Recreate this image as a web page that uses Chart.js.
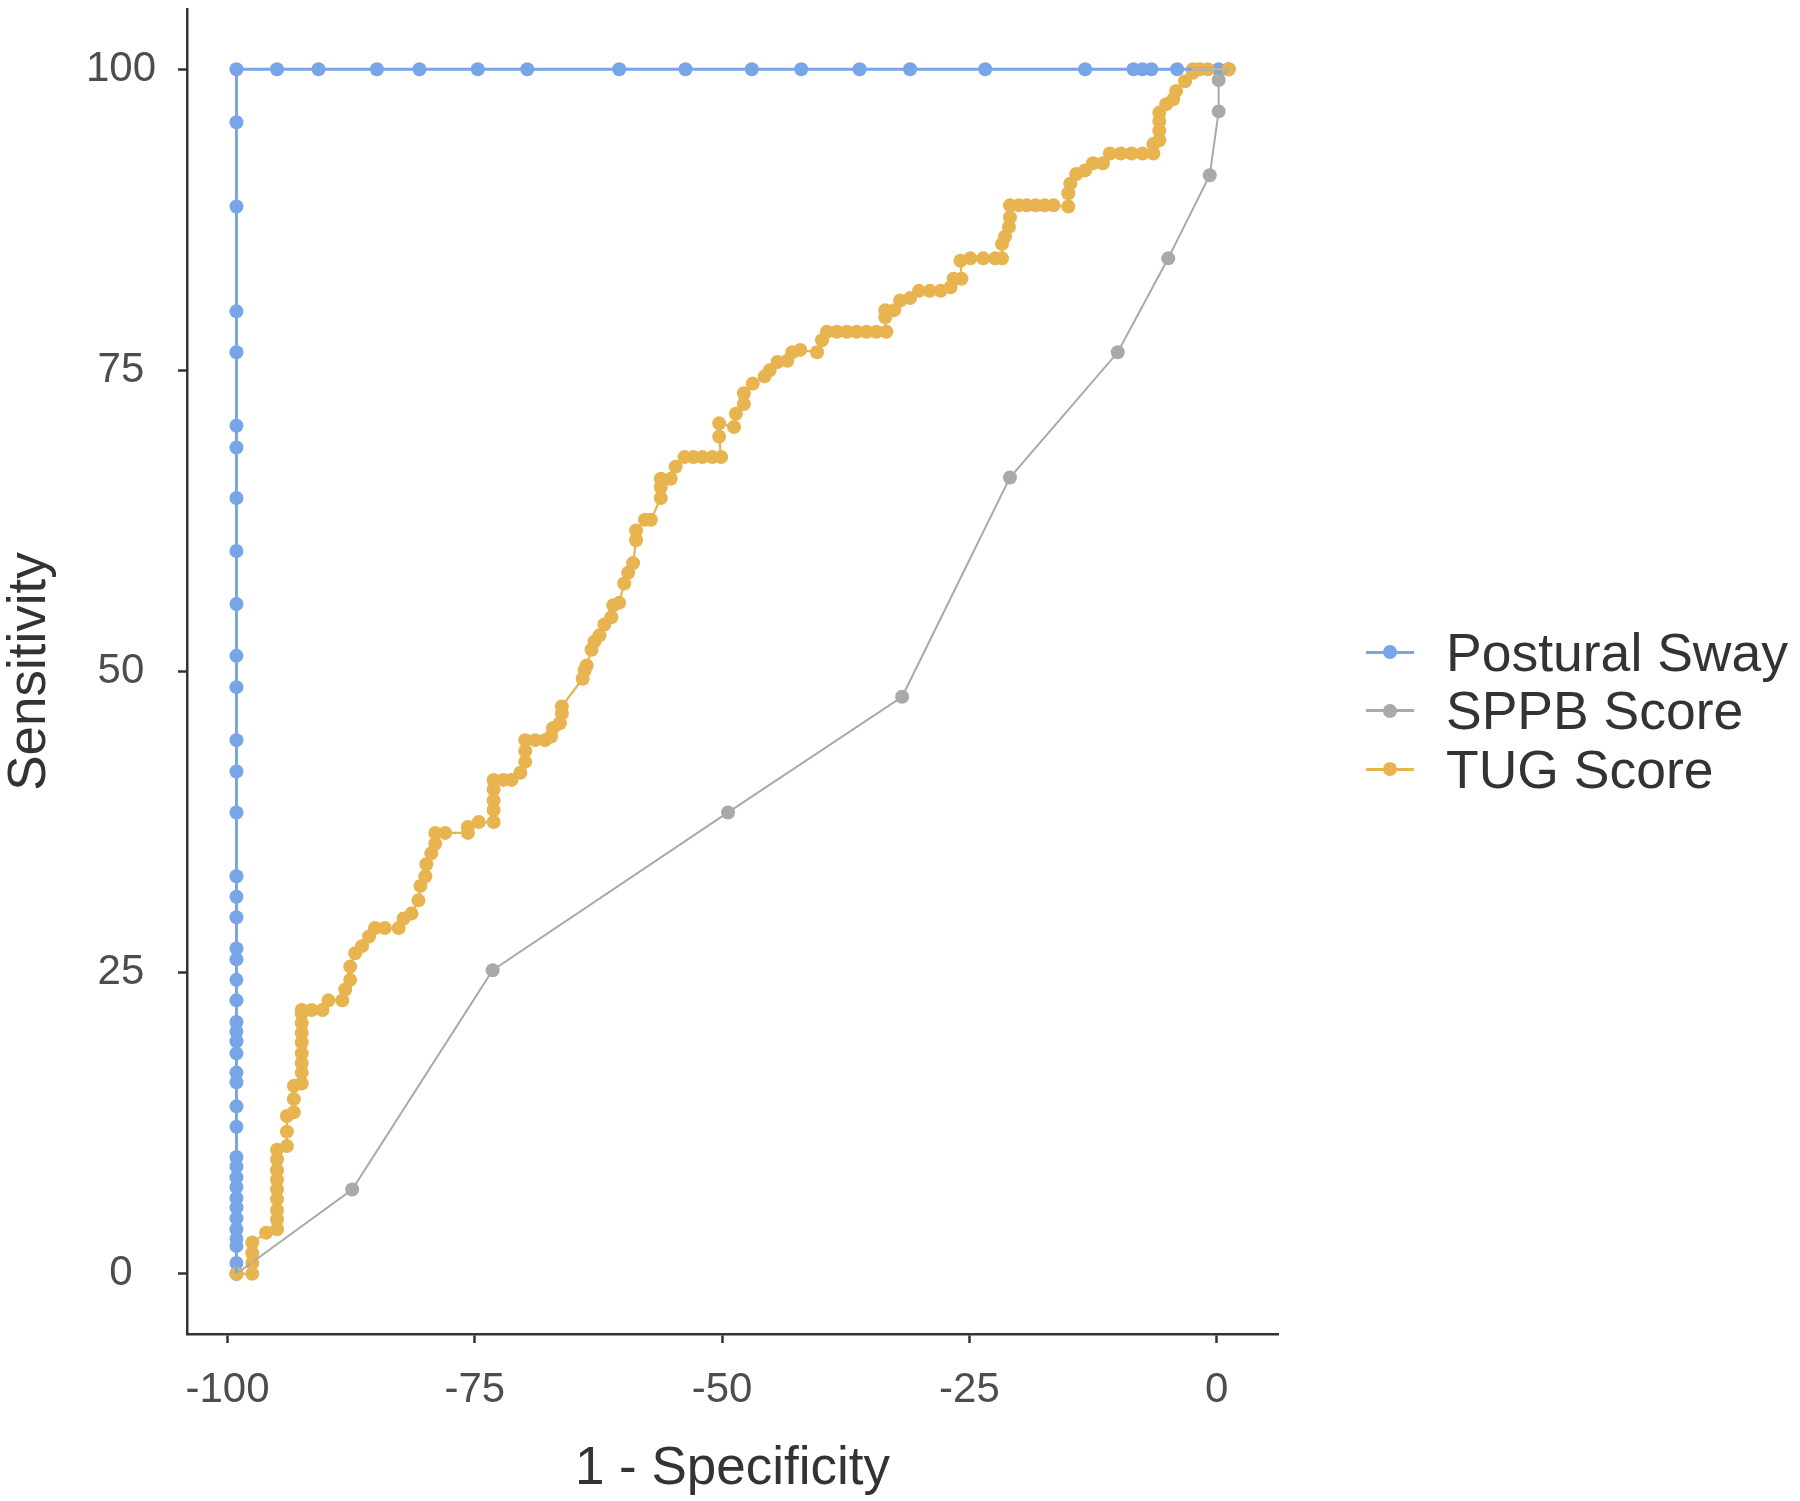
<!DOCTYPE html>
<html>
<head>
<meta charset="utf-8">
<script src="https://cdn.jsdelivr.net/npm/chart.js@4.4.1/dist/chart.umd.min.js"></script>
<style>
  html, body { margin: 0; padding: 0; background: #fff; }
  #wrap { position: relative; width: 1800px; height: 1501px; }
  #legend { position: absolute; left: 1366px; top: 623px; font-family: "Liberation Sans", Arial, sans-serif; font-size: 53.5px; color: #333; }
  .item { display: flex; align-items: center; height: 58.5px; white-space: nowrap; }
  .key { position: relative; width: 48px; height: 14px; margin-right: 32px; }
  .key .ln { position: absolute; left: 0; right: 0; top: 5.5px; height: 3px; }
  .key .pt { position: absolute; left: 17px; top: 0; width: 14px; height: 14px; border-radius: 50%; }
</style>
</head>
<body>
<div id="wrap">
  <canvas id="roc" width="1800" height="1501"></canvas>
  <div id="legend"></div>
</div>
<script>
// ROC curves ([1 - specificity, sensitivity])
const seriesNames = ['Postural Sway', 'SPPB Score', 'TUG Score'];
const seriesColors = ['#77A5E8', '#A9A9A9', '#E8B44F'];
const xTicks = [-100, -75, -50, -25, 0];
const yTicks = [0, 25, 50, 75, 100];

const postural = [
  [-99.1, 0], [-99.1, 0.9], [-99.1, 2.3], [-99.1, 2.9], [-99.1, 3.7], [-99.1, 4.6], [-99.1, 5.5],
  [-99.1, 6.3], [-99.1, 7.2], [-99.1, 8.0], [-99.1, 8.9], [-99.1, 9.7], [-99.1, 12.2], [-99.1, 13.9],
  [-99.1, 15.9], [-99.1, 16.7], [-99.1, 18.3], [-99.1, 19.3], [-99.1, 20.1], [-99.1, 20.9], [-99.1, 22.7],
  [-99.1, 24.4], [-99.1, 26.1], [-99.1, 27.0], [-99.1, 29.6], [-99.1, 31.3], [-99.1, 33.0], [-99.1, 38.3],
  [-99.1, 41.7], [-99.1, 44.3], [-99.1, 48.7], [-99.1, 51.3], [-99.1, 55.6], [-99.1, 60.0], [-99.1, 64.4],
  [-99.1, 68.6], [-99.1, 70.4], [-99.1, 76.5], [-99.1, 79.9], [-99.1, 88.6], [-99.1, 95.6], [-99.1, 100],
  [-95.0, 100], [-90.8, 100], [-84.9, 100], [-80.6, 100], [-74.7, 100], [-69.7, 100], [-60.4, 100],
  [-53.7, 100], [-47.0, 100], [-42.0, 100], [-36.1, 100], [-31.0, 100], [-23.4, 100], [-13.3, 100],
  [-8.4, 100], [-7.5, 100], [-6.6, 100], [-4.0, 100], [0.2, 100], [1.2, 100]
];

const sppb = [
  [-99.1, 0], [-87.4, 7.0], [-73.2, 25.2], [-49.4, 38.3], [-31.8, 47.9], [-20.9, 66.1],
  [-10.0, 76.5], [-4.9, 84.3], [-0.7, 91.2], [0.2, 96.5], [0.2, 99.1], [1.2, 100]
];

const tug = [
  [-99.1, 0], [-97.5, 0], [-97.5, 0.9], [-97.5, 1.7], [-97.5, 2.6], [-96.1, 3.4], [-95.0, 3.7],
  [-95.0, 4.5], [-95.0, 5.3], [-95.0, 6.2], [-95.0, 7.0], [-95.0, 7.8], [-95.0, 8.6], [-95.0, 9.5],
  [-95.0, 10.3], [-94.0, 10.6], [-94.0, 11.8], [-94.0, 13.1], [-93.3, 13.4], [-93.3, 14.5], [-93.3, 15.6],
  [-92.5, 15.8], [-92.5, 16.7], [-92.5, 17.5], [-92.5, 18.3], [-92.5, 19.2], [-92.5, 20.0], [-92.5, 20.8],
  [-92.5, 21.6], [-92.5, 21.9], [-91.5, 21.9], [-90.4, 21.9], [-89.8, 22.7], [-88.4, 22.7], [-88.1, 23.6],
  [-87.6, 24.4], [-87.6, 25.5], [-87.1, 26.6], [-86.4, 27.2], [-85.7, 28.0], [-85.1, 28.7], [-84.1, 28.7],
  [-82.7, 28.7], [-82.2, 29.5], [-81.4, 29.9], [-80.7, 31.0], [-80.5, 32.2], [-80.0, 33.0], [-79.9, 34.0],
  [-79.4, 34.9], [-79.0, 35.7], [-79.0, 36.6], [-78.0, 36.6], [-75.7, 36.6], [-75.7, 37.1], [-74.6, 37.5],
  [-73.1, 37.5], [-73.1, 38.5], [-73.1, 39.3], [-73.1, 40.2], [-73.1, 41.0], [-72.1, 41.0], [-71.3, 41.0],
  [-70.4, 41.6], [-69.9, 42.5], [-69.9, 43.4], [-69.9, 44.3], [-68.9, 44.3], [-67.9, 44.3], [-67.3, 44.6],
  [-67.1, 45.3], [-66.4, 45.7], [-66.2, 46.5], [-66.2, 47.1], [-64.1, 49.4], [-63.9, 50.1], [-63.7, 50.5],
  [-63.2, 51.8], [-62.9, 52.5], [-62.4, 53.0], [-61.9, 53.9], [-61.2, 54.5], [-61.0, 55.5], [-60.4, 55.7],
  [-59.9, 57.3], [-59.5, 58.2], [-59.0, 59.0], [-58.7, 60.9], [-58.7, 61.7], [-57.8, 62.6], [-57.2, 62.6],
  [-56.2, 64.4], [-56.2, 65.3], [-56.2, 66.0], [-55.2, 66.0], [-54.7, 67.0], [-53.8, 67.8], [-52.9, 67.8],
  [-52.0, 67.8], [-51.0, 67.8], [-50.1, 67.8], [-50.3, 69.5], [-50.3, 70.6], [-48.8, 70.3], [-48.6, 71.4],
  [-47.8, 72.2], [-47.8, 73.1], [-46.9, 73.9], [-45.7, 74.5], [-45.2, 75.0], [-44.4, 75.7], [-43.4, 75.8],
  [-42.9, 76.5], [-42.1, 76.7], [-40.4, 76.5], [-39.9, 77.5], [-39.4, 78.2], [-38.4, 78.2], [-37.4, 78.2],
  [-36.4, 78.2], [-35.4, 78.2], [-34.4, 78.2], [-33.4, 78.2], [-33.5, 79.4], [-33.5, 80.0], [-32.6, 80.0],
  [-32.0, 80.8], [-31.0, 81.0], [-30.1, 81.6], [-29.0, 81.6], [-27.9, 81.6], [-26.9, 81.9], [-26.6, 82.6],
  [-25.8, 82.6], [-25.9, 84.1], [-24.9, 84.3], [-23.6, 84.3], [-22.4, 84.3], [-21.7, 84.3], [-21.7, 85.5],
  [-21.4, 86.1], [-21.0, 86.9], [-20.9, 87.7], [-20.9, 88.7], [-20.0, 88.7], [-19.2, 88.7], [-18.3, 88.7],
  [-17.4, 88.7], [-16.5, 88.7], [-15.0, 88.6], [-15.0, 89.7], [-14.8, 90.5], [-14.2, 91.3], [-13.3, 91.6],
  [-12.5, 92.2], [-11.5, 92.2], [-10.8, 93.0], [-9.7, 93.0], [-8.6, 93.0], [-7.5, 93.0], [-6.4, 93.0],
  [-6.4, 93.8], [-5.8, 94.1], [-5.8, 94.9], [-5.8, 95.7], [-5.8, 96.4], [-5.1, 97.1], [-4.4, 97.5],
  [-4.1, 98.2], [-3.2, 99.0], [-2.4, 99.7], [-2.4, 100], [-1.7, 100], [-0.9, 100], [1.2, 100]
];

const allSeries = [postural, sppb, tug];
const lineWidths = [3, 2, 2.2];
const FONT = '"Liberation Sans", Arial, sans-serif';

// points first, lines on top (like the original plot)
const datasets = [];
allSeries.forEach((pts, i) => {
  datasets.push({
    label: seriesNames[i] + ' points',
    data: pts.map(p => ({ x: p[0], y: p[1] })),
    showLine: false,
    pointRadius: 7,
    pointBorderWidth: 0,
    pointBackgroundColor: seriesColors[i],
    order: 12 - i,
  });
  datasets.push({
    label: seriesNames[i],
    data: pts.map(p => ({ x: p[0], y: p[1] })),
    showLine: true,
    borderColor: seriesColors[i],
    borderWidth: lineWidths[i],
    pointRadius: 0,
    tension: 0,
    order: 3 - i,
  });
});

const axisColor = '#333';
new Chart(document.getElementById('roc'), {
  type: 'scatter',
  data: { datasets },
  options: {
    responsive: false,
    animation: false,
    devicePixelRatio: 1,
    layout: { padding: { top: 9, right: 522, bottom: 0, left: 0 } },
    plugins: { legend: { display: false }, tooltip: { enabled: false } },
    scales: {
      x: {
        type: 'linear', min: -104.1, max: 6.2,
        afterBuildTicks: s => { s.ticks = xTicks.map(v => ({ value: v })); },
        afterFit: s => { s.height = 167; s.paddingLeft = 0; s.paddingRight = 0; },
        grid: { display: true, drawOnChartArea: false, drawTicks: true, tickLength: 9, tickColor: axisColor, tickWidth: 2.5 },
        border: { display: true, color: axisColor, width: 2.5 },
        ticks: { color: '#4d4d4d', padding: 22, maxRotation: 0, autoSkip: false,
          font: { family: FONT, size: 42 }, callback: v => String(v) },
        title: { display: true, text: '1 - Specificity', color: axisColor,
          font: { family: FONT, size: 53, lineHeight: 1.0 }, padding: { top: 0, bottom: 5 } }
      },
      y: {
        type: 'linear', min: -5, max: 105,
        afterBuildTicks: s => { s.ticks = yTicks.map(v => ({ value: v })); },
        afterFit: s => { s.width = 187; s.paddingTop = 0; s.paddingBottom = 0; },
        grid: { display: true, drawOnChartArea: false, drawTicks: true, tickLength: 9, tickColor: axisColor, tickWidth: 2.5 },
        border: { display: true, color: axisColor, width: 2.5 },
        ticks: { color: '#4d4d4d', padding: 22, crossAlign: 'center', autoSkip: false,
          font: { family: FONT, size: 42 }, callback: v => String(v) },
        title: { display: true, text: 'Sensitivity', color: axisColor,
          font: { family: FONT, size: 53, lineHeight: 1.0 }, padding: { top: 4, bottom: 0 } }
      }
    }
  }
});

// legend
const legend = document.getElementById('legend');
legend.innerHTML = seriesNames.map((n, i) => `
  <div class="item">
    <div class="key"><div class="ln" style="background:${seriesColors[i]}"></div><div class="pt" style="background:${seriesColors[i]}"></div></div>
    <span>${n}</span>
  </div>`).join('');
</script>
</body>
</html>
